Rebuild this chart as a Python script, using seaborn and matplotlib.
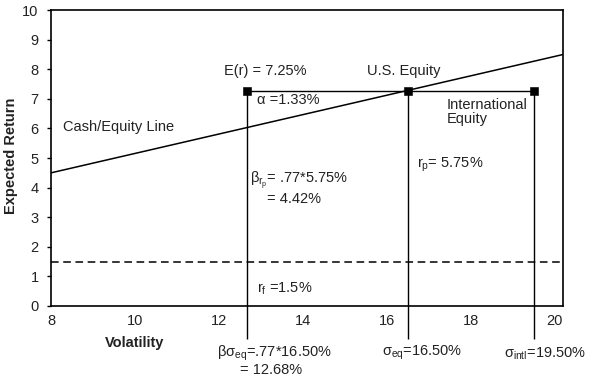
import matplotlib
matplotlib.use("Agg")
import matplotlib.pyplot as plt
import seaborn as sns
import pandas as pd

# chart values
x_ticks = [8, 10, 12, 14, 16, 18, 20]
y_ticks = [0, 1, 2, 3, 4, 5, 6, 7, 8, 9, 10]
line_vol = [8.0, 20.2]          # cash/equity line end points (volatility)
line_ret = [4.5, 8.5]           # cash/equity line end points (expected return)
point_vol = [12.68, 16.50, 19.50]
point_ret = [7.25, 7.25, 7.25]
risk_free = 1.5

sns.set_style("white")
plt.rcParams['font.family'] = ['Liberation Sans', 'DejaVu Sans']
plt.rcParams['mathtext.fontset'] = 'custom'
plt.rcParams['mathtext.rm'] = 'Liberation Sans'
plt.rcParams['mathtext.it'] = 'Liberation Sans'
plt.rcParams['mathtext.bf'] = 'Liberation Sans:bold'

fig = plt.figure(figsize=(5.89, 3.89), dpi=100)
ax = fig.add_axes([0.0866, 0.2134, 0.8694, 0.7606])

txt = '#222222'
lines = pd.DataFrame({'vol': line_vol, 'ret': line_ret})
pts = pd.DataFrame({'vol': point_vol, 'ret': point_ret})

sns.lineplot(data=lines, x='vol', y='ret', color='black', lw=1.1, ax=ax)
ax.axhline(risk_free, color='black', lw=1.1, ls=(0, (5, 3)))
ax.hlines(point_ret[0], point_vol[0], point_vol[-1], color='black', lw=1.0)
ax.vlines(point_vol, -1.1, point_ret, color='black', lw=1.0, clip_on=False)
sns.scatterplot(data=pts, x='vol', y='ret', marker='s', s=28, color='black',
                edgecolor='black', zorder=5, ax=ax, clip_on=False)

ax.set_xlim(8, 20.2)
ax.set_ylim(0, 10)
ax.set_xticks(x_ticks)
ax.set_yticks(y_ticks)
ax.tick_params(axis='x', direction='in', length=4, width=1, colors='black',
               labelcolor=txt, labelsize=10.5, pad=6)
ax.tick_params(axis='y', direction='out', length=3, width=1, colors='black',
               labelcolor=txt, labelsize=10.5, pad=6, left=True)
for s in ax.spines.values():
    s.set_color('black')
    s.set_linewidth(1.2)

ax.set_xlabel('')
ax.set_ylabel('')
fig.text(0.229, 0.117, 'Volatility', fontsize=10.5, fontweight='bold',
         ha='center', va='center', color=txt)
fig.text(0.018, 0.60, 'Expected Return', fontsize=10.5, fontweight='bold',
         rotation=90, ha='center', va='center', color=txt)

fs = 10.5
ax.text(13.1, 7.94, 'E(r) = 7.25%', fontsize=fs, ha='center', va='center', color=txt)
ax.text(16.4, 7.94, 'U.S. Equity', fontsize=fs, ha='center', va='center', color=txt)
ax.text(12.9, 6.96, 'α =1.33%', fontsize=fs, ha='left', va='center', color=txt)
ax.text(17.43, 6.55, 'International\nEquity', fontsize=fs, ha='left', va='center',
        color=txt, linespacing=0.95)
ax.text(8.29, 6.05, 'Cash/Equity Line', fontsize=fs, ha='left', va='center', color=txt)
ax.text(16.71, 4.76, r'$r_p$= 5.75%', fontsize=fs, ha='left', va='center', color=txt)
ax.text(12.74, 4.26, r'$\beta_{r_p}$= .77*5.75%', fontsize=fs, ha='left', va='center', color=txt)
ax.text(13.15, 3.62, '= 4.42%', fontsize=fs, ha='left', va='center', color=txt)
ax.text(12.9, 0.57, r'$r_f$ =1.5%', fontsize=fs, ha='left', va='center', color=txt)
ax.text(11.95, -1.6, r'$\beta\sigma_{eq}$=.77*16.50%', fontsize=fs, ha='left', va='center', color=txt)
ax.text(12.5, -2.15, '= 12.68%', fontsize=fs, ha='left', va='center', color=txt)
ax.text(15.88, -1.6, r'$\sigma_{eq}$=16.50%', fontsize=fs, ha='left', va='center', color=txt)
ax.text(18.8, -1.6, r'$\sigma_{intl}$=19.50%', fontsize=fs, ha='left', va='center', color=txt)

fig.savefig('out.png', dpi=100)
